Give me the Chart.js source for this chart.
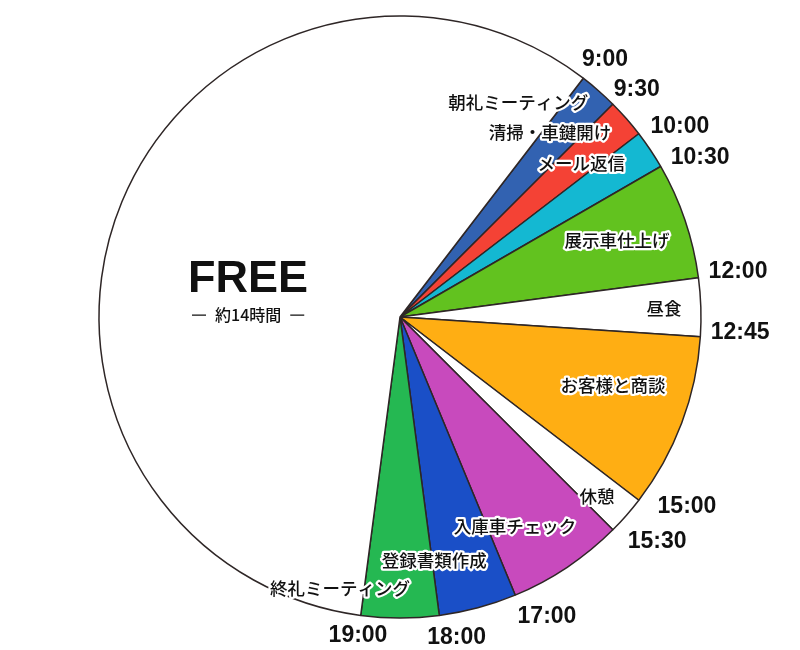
<!DOCTYPE html>
<html>
<head>
<meta charset="utf-8">
<script src="https://cdn.jsdelivr.net/npm/chart.js@4/dist/chart.umd.min.js"></script>
<style>
  html, body { margin: 0; padding: 0; background: #fff; }
  #wrap { width: 800px; height: 650px; }
</style>
</head>
<body>
<div id="wrap"><canvas id="dayChart" width="800" height="650"></canvas></div>
<script>
// one day, starting at 9:00 (hours per task)
const tasks = ['朝礼ミーティング', '清掃・車鍵開け', 'メール返信', '展示車仕上げ', '昼食',
               'お客様と商談', '休憩', '入庫車チェック', '登録書類作成', '終礼ミーティング', 'FREE'];
const hours = [0.5, 0.5, 0.5, 1.5, 0.75, 2.25, 0.5, 1.5, 1, 1, 14];
const endTimes = ['9:30', '10:00', '10:30', '12:00', '12:45', '15:00', '15:30', '17:00', '18:00', '19:00', '9:00'];
const freeNote = '約14時間';

const colors = ['#3262b1', '#f44235', '#14b8d2', '#62c21f', '#ffffff',
                '#ffae13', '#ffffff', '#c84abd', '#1a4fc7', '#25b852', '#ffffff'];

// label placement: [degrees from slice middle, fraction of radius]
const taskLabelPos = [[-12.4, 0.814], [-9.7, 0.791], [-6.6, 0.79], [-0.8, 0.765], [-0.1, 0.878],
                      [-2.9, 0.743], [1.1, 0.886], [5.0, 0.795], [7.0, 0.815], [12.5, 0.922], [-8.5, 0.52]];
// time label placement: [degrees from slice end, fraction of radius]
const timeLabelPos = [[1.2, 1.09], [3.3, 1.124], [2.1, 1.128], [-0.1, 1.133], [-1.05, 1.131],
                      [-4.1, 1.142], [-3.8, 1.135], [-3.6, 1.11], [-2.5, 1.083], [0, 1.069], [1.1, 1.092]];

const DEG = Math.PI / 180;

const labelPlugin = {
  id: 'dayLabels',
  afterDatasetsDraw(chart) {
    const ctx = chart.ctx;
    const arcs = chart.getDatasetMeta(0).data;
    const cx = arcs[0].x, cy = arcs[0].y, R = arcs[0].outerRadius;
    ctx.save();
    ctx.textAlign = 'center';
    ctx.textBaseline = 'middle';
    ctx.lineJoin = 'round';

    arcs.forEach((arc, i) => {
      const mid = (arc.startAngle + arc.endAngle) / 2 + taskLabelPos[i][0] * DEG;
      const r = R * taskLabelPos[i][1];
      const x = cx + r * Math.cos(mid), y = cy + r * Math.sin(mid);
      if (tasks[i] === 'FREE') {
        ctx.fillStyle = '#111';
        ctx.font = 'bold 45px "Liberation Sans", Arial, sans-serif';
        ctx.fillText(tasks[i], x, y);
        // note with a short rule on each side
        ctx.font = '500 16px "Noto Sans CJK JP", sans-serif';
        const ny = y + 36;
        ctx.fillText(freeNote, x, ny);
        const half = ctx.measureText(freeNote).width / 2;
        ctx.strokeStyle = '#111';
        ctx.lineWidth = 1.3;
        ctx.beginPath();
        ctx.moveTo(x - half - 23, ny); ctx.lineTo(x - half - 9, ny);
        ctx.moveTo(x + half + 9, ny); ctx.lineTo(x + half + 23, ny);
        ctx.stroke();
      } else {
        ctx.font = '500 17.5px "Noto Sans CJK JP", sans-serif';
        ctx.strokeStyle = '#fff';
        ctx.lineWidth = 4.5;
        ctx.strokeText(tasks[i], x, y);
        ctx.fillStyle = '#111';
        ctx.fillText(tasks[i], x, y);
      }

      // time at the end of each slice
      const ea = arc.endAngle + timeLabelPos[i][0] * DEG;
      const tr = R * timeLabelPos[i][1];
      ctx.font = 'bold 23px "Liberation Sans", Arial, sans-serif';
      ctx.fillStyle = '#111';
      ctx.fillText(endTimes[i], cx + tr * Math.cos(ea), cy + tr * Math.sin(ea));
    });
    ctx.restore();
  }
};

new Chart(document.getElementById('dayChart'), {
  type: 'pie',
  data: {
    labels: tasks,
    datasets: [{
      data: hours,
      backgroundColor: colors,
      borderColor: '#2e2626',
      borderWidth: 1.5,
      radius: 301
    }]
  },
  options: {
    responsive: false,
    animation: false,
    rotation: 37.5,
    layout: { padding: { top: 16, bottom: 32, left: 0, right: 0 } },
    plugins: {
      legend: { display: false },
      tooltip: { enabled: false }
    },
    events: []
  },
  plugins: [labelPlugin]
});
</script>
</body>
</html>
